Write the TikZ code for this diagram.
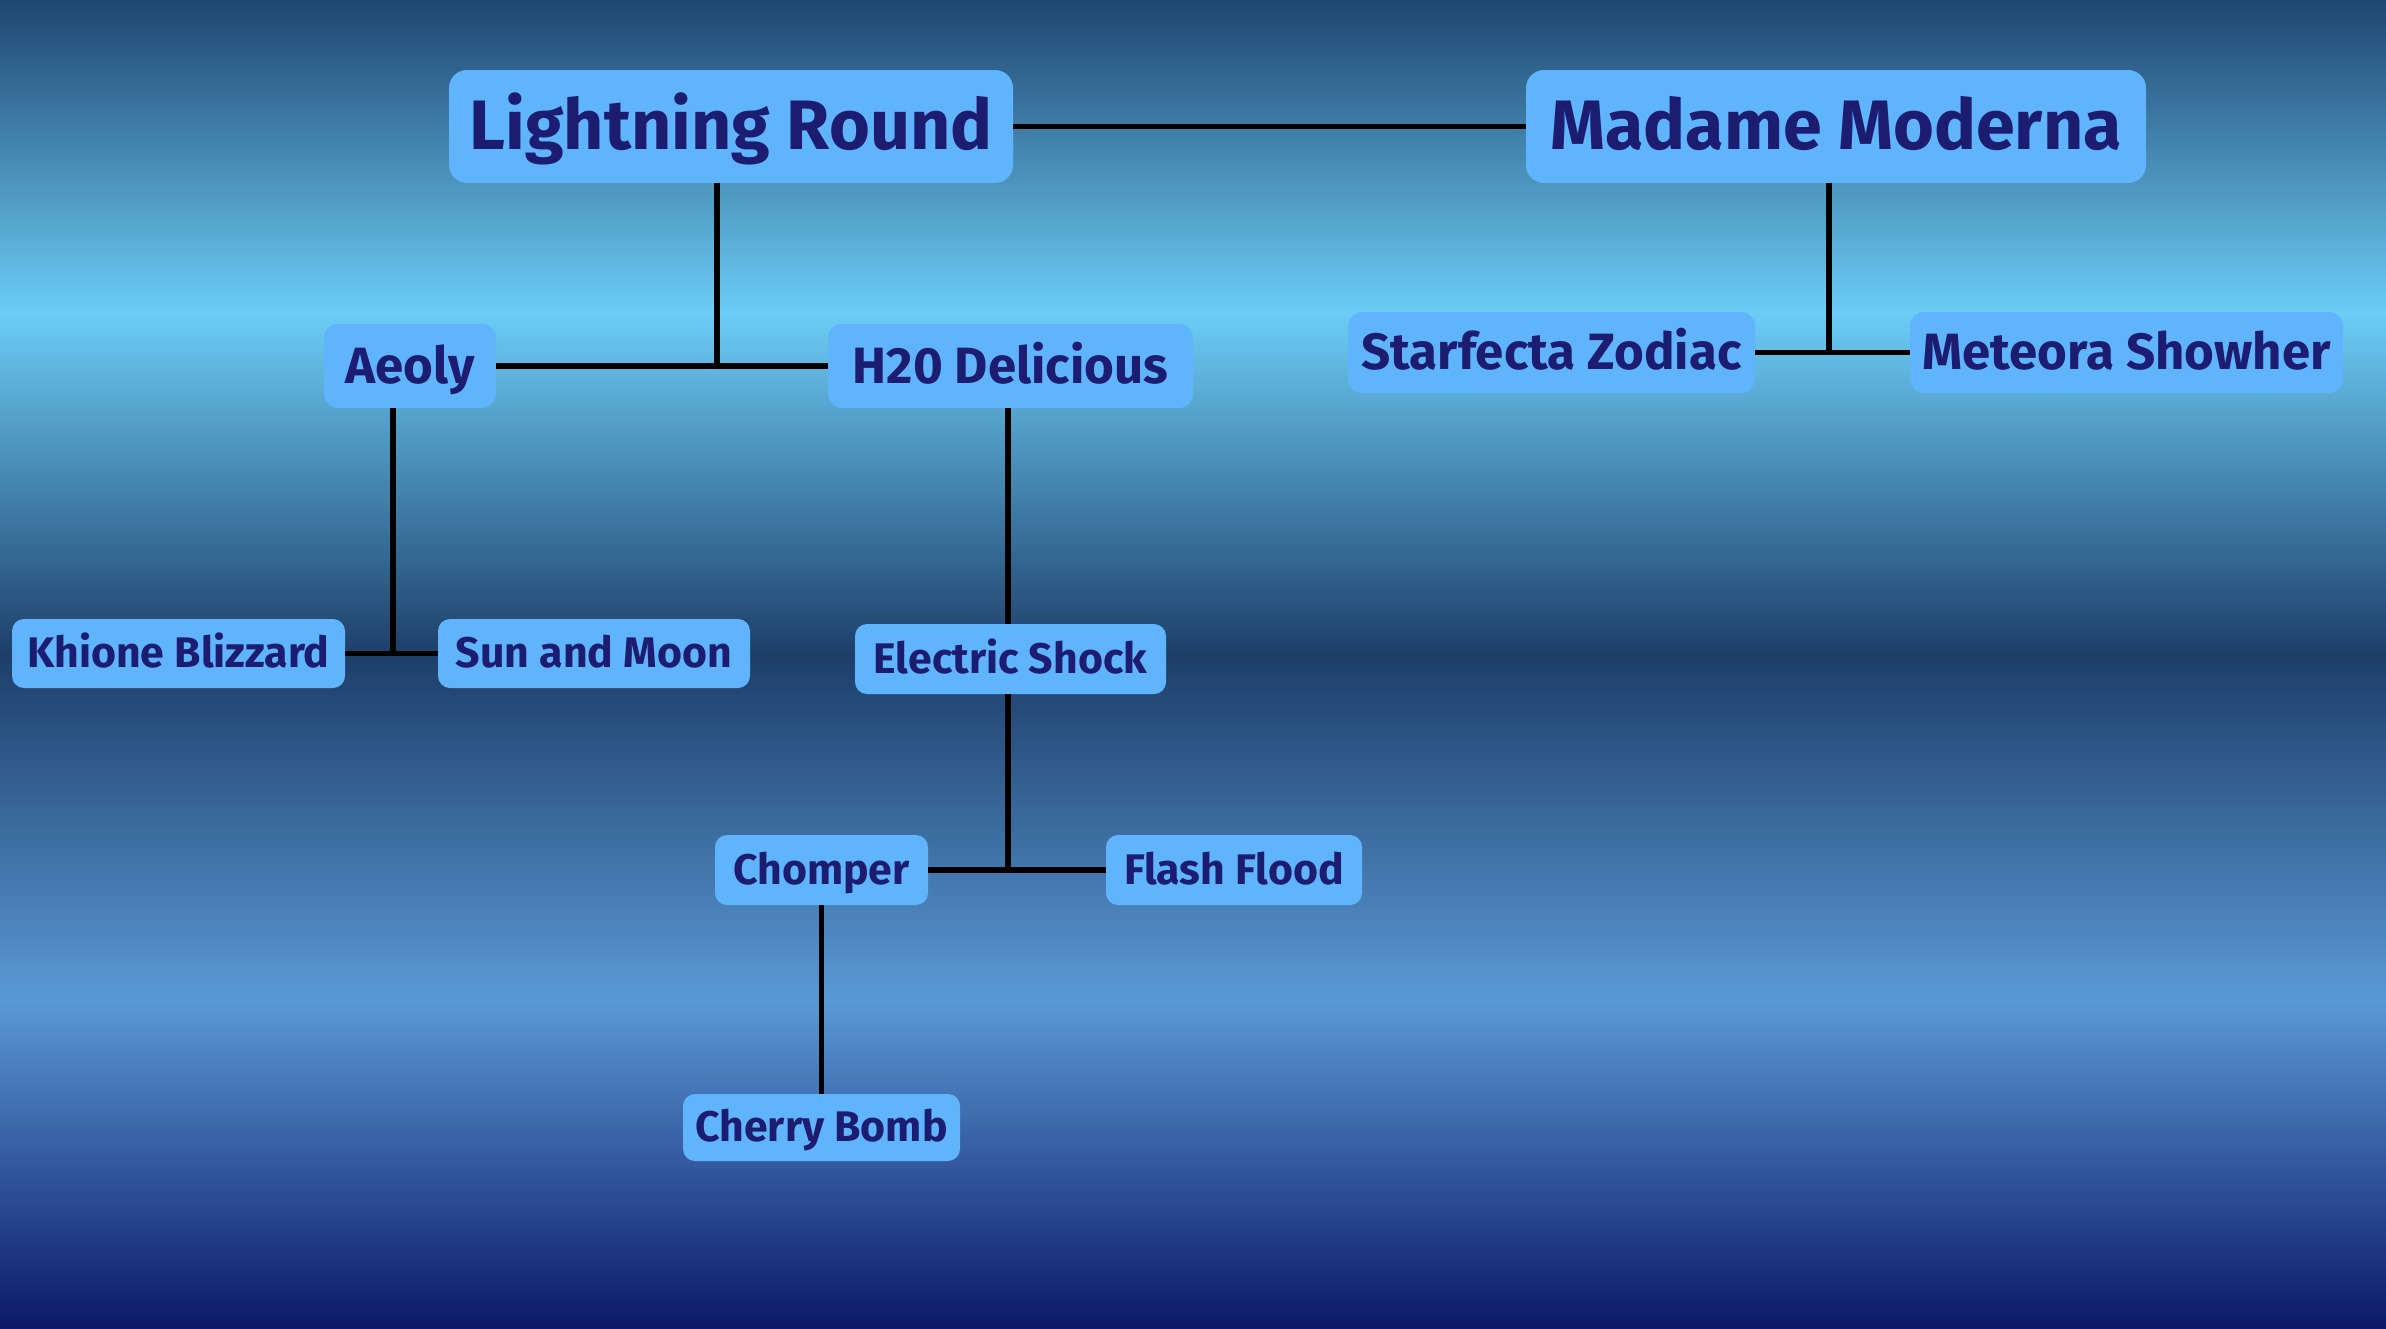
\documentclass[tikz,border=0pt]{standalone}
\usepackage{fontspec}
\setmainfont{Fira Sans}
\definecolor{bgA}{HTML}{1F4670}
\definecolor{bgB}{HTML}{6CCDF6}
\definecolor{bgC}{HTML}{1D3E69}
\definecolor{bgD}{HTML}{5A99D5}
\definecolor{bgE}{HTML}{0C1869}
\definecolor{boxfill}{HTML}{60B4FB}
\definecolor{ink}{HTML}{1C1C70}
\tikzset{
  member/.style={fill=boxfill, rounded corners=7pt, inner sep=0pt, text=ink,
    text depth=0pt, font=\bfseries},
  bigmember/.style={member, rounded corners=9pt, text height=23pt,
    font=\bfseries\fontsize{35}{40}\selectfont},
  midmember/.style={member, text height=17pt,
    font=\bfseries\fontsize{25.5}{30}\selectfont},
  smallmember/.style={member, rounded corners=6pt, text height=14.2pt,
    font=\bfseries\fontsize{21.4}{26}\selectfont},
  link/.style={draw=black, line width=2.6pt}
}
\begin{document}
\begin{tikzpicture}[x=0.5pt,y=-0.5pt]
\useasboundingbox (0,0) rectangle (2386,1328);
% background bands
\shade[top color=bgA,bottom color=bgB] (0,0) rectangle (2386,313);
\shade[top color=bgB,bottom color=bgC] (0,312) rectangle (2386,656);
\shade[top color=bgC,bottom color=bgD] (0,655) rectangle (2386,1001);
\shade[top color=bgD,bottom color=bgE] (0,1000) rectangle (2386,1328);

\node[bigmember, minimum width=282pt, minimum height=56.5pt] (lr) at (731,126.5) {Lightning Round};
\node[bigmember, minimum width=310pt, minimum height=56.5pt] (mm) at (1836,126.5) {Madame Moderna};
\node[midmember, minimum width=86pt, minimum height=42pt] (aeoly) at (410,366) {Aeoly};
\node[midmember, minimum width=182.5pt, minimum height=42pt] (h20) at (1010.5,366) {H20 Delicious};
\node[midmember, minimum width=203.5pt, minimum height=40.5pt] (sz) at (1551.5,352.5) {Starfecta Zodiac};
\node[midmember, minimum width=216.5pt, minimum height=40.5pt] (ms) at (2126.5,352.5) {Meteora Showher};
\node[smallmember, minimum width=166.5pt, minimum height=34.5pt] (kb) at (178.5,653.5) {Khione Blizzard};
\node[smallmember, minimum width=156pt, minimum height=34.5pt] (sm) at (594,653.5) {Sun and Moon};
\node[smallmember, minimum width=155.5pt, minimum height=35pt] (es) at (1010.5,659) {Electric Shock};
\node[smallmember, minimum width=106.5pt, minimum height=35pt] (ch) at (821.5,870) {Chomper};
\node[smallmember, minimum width=128pt, minimum height=35pt] (ff) at (1234,870) {Flash Flood};
\node[smallmember, minimum width=138.5pt, minimum height=33.5pt] (cb) at (821.5,1127.5) {Cherry Bomb};

\coordinate (j1) at (717,366);
\coordinate (j2) at (1829,352.5);
\coordinate (j3) at (393,653.5);
\coordinate (j4) at (1008,870);

\draw[link] (lr) -- (mm);
\draw[link] (lr.south -| j1) -- (j1);
\draw[link] (aeoly) -- (h20);
\draw[link] (mm.south -| j2) -- (j2);
\draw[link] (sz) -- (ms);
\draw[link] (aeoly.south -| j3) -- (j3);
\draw[link] (kb) -- (sm);
\draw[link] (h20.south -| j4) -- (es.north -| j4);
\draw[link] (es.south -| j4) -- (j4);
\draw[link] (ch) -- (ff);
\draw[link] (ch) -- (cb);
\end{tikzpicture}
\end{document}
